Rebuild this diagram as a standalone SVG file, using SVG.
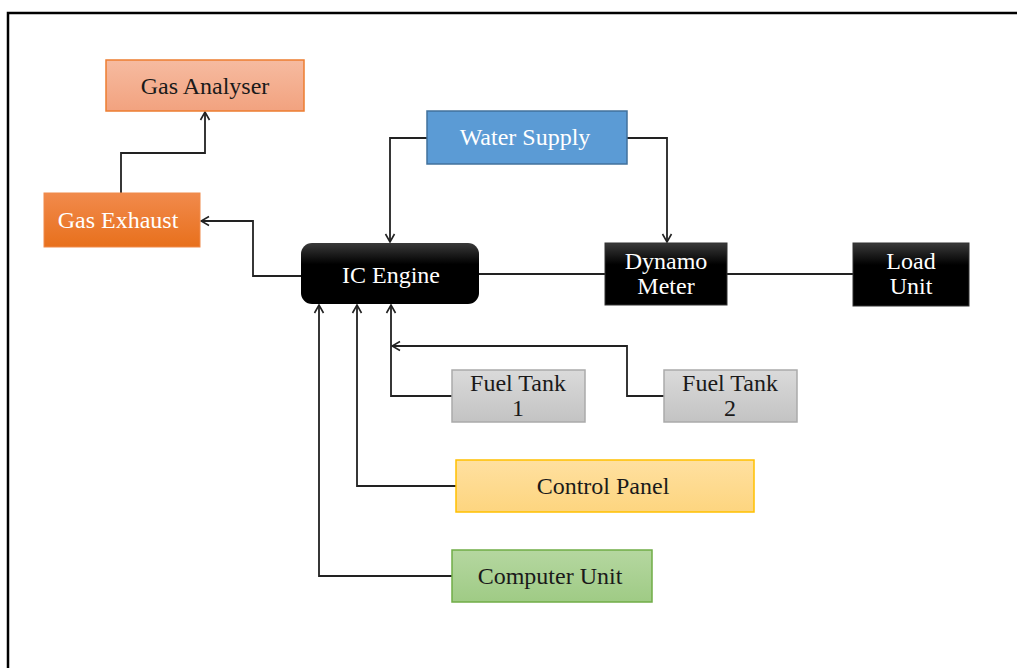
<svg xmlns="http://www.w3.org/2000/svg" width="1017" height="668" viewBox="0 0 1017 668">
<defs>
<linearGradient id="gAna" x1="0" y1="0" x2="0" y2="1"><stop offset="0" stop-color="#F6BBA0"/><stop offset="1" stop-color="#F2A27F"/></linearGradient>
<linearGradient id="gExh" x1="0" y1="0" x2="0" y2="1"><stop offset="0" stop-color="#F18A4C"/><stop offset="1" stop-color="#E8701C"/></linearGradient>
<linearGradient id="gBlk" x1="0" y1="0" x2="0" y2="1"><stop offset="0" stop-color="#3A3A3A"/><stop offset="0.35" stop-color="#000"/><stop offset="1" stop-color="#000"/></linearGradient>
<linearGradient id="gGry" x1="0" y1="0" x2="0" y2="1"><stop offset="0" stop-color="#DADADA"/><stop offset="1" stop-color="#C3C3C3"/></linearGradient>
<linearGradient id="gYel" x1="0" y1="0" x2="0" y2="1"><stop offset="0" stop-color="#FFE0A0"/><stop offset="1" stop-color="#FDD57F"/></linearGradient>
<linearGradient id="gGrn" x1="0" y1="0" x2="0" y2="1"><stop offset="0" stop-color="#B5D7A0"/><stop offset="1" stop-color="#9FCB85"/></linearGradient>
<marker id="arr" viewBox="0 0 12 12" refX="11" refY="6" markerWidth="12" markerHeight="12" markerUnits="userSpaceOnUse" orient="auto">
<path d="M3,1.5 L11,6 L3,10.5" fill="none" stroke="#222" stroke-width="1.6"/>
</marker>
<style>
.t{font-family:"Liberation Serif","Times New Roman",serif;font-size:24px;text-anchor:middle;fill:#1a1a1a}
.w{fill:#fff}
.c{fill:none;stroke:#222;stroke-width:1.8}
</style>
</defs>
<rect x="0" y="0" width="1017" height="668" fill="#fff"/>
<rect x="8" y="13" width="1030" height="680" fill="none" stroke="#000" stroke-width="2.5"/>
<g id="connectors">
<path class="c" d="M121,193 V153 H205 V112" marker-end="url(#arr)"/>
<path class="c" d="M301,276 H253 V221 H201" marker-end="url(#arr)"/>
<path class="c" d="M427,138 H390 V242" marker-end="url(#arr)"/>
<path class="c" d="M627,138 H667 V242" marker-end="url(#arr)"/>
<path class="c" d="M479,274 H605"/>
<path class="c" d="M727,274 H853"/>
<path class="c" d="M452,396 H391 V305" marker-end="url(#arr)"/>
<path class="c" d="M664,396 H627 V346 H392" marker-end="url(#arr)"/>
<path class="c" d="M456,486 H357 V305" marker-end="url(#arr)"/>
<path class="c" d="M452,576 H319 V305" marker-end="url(#arr)"/>
</g>
<g id="gas-analyser"><rect x="106" y="60" width="198" height="51" fill="url(#gAna)" stroke="#ED7D31" stroke-width="1.5"/><text class="t" x="205" y="94">Gas Analyser</text></g>
<g id="gas-exhaust"><rect x="44" y="193" width="156" height="54" fill="url(#gExh)" stroke="#F08A4B" stroke-width="1"/><text class="t w" x="118" y="228">Gas Exhaust</text></g>
<g id="water-supply"><rect x="427" y="111" width="200" height="53" fill="#5B9BD5" stroke="#41719C" stroke-width="1.5"/><text class="t w" x="525" y="145">Water Supply</text></g>
<g id="ic-engine"><rect x="301" y="243" width="178" height="61" rx="11" fill="url(#gBlk)"/><text class="t w" x="391" y="283">IC Engine</text></g>
<g id="dynamo-meter"><rect x="605" y="243" width="122" height="62" fill="url(#gBlk)" stroke="#333" stroke-width="1"/><text class="t w" x="666" y="269">Dynamo</text><text class="t w" x="666" y="294">Meter</text></g>
<g id="load-unit"><rect x="853" y="243" width="116" height="63" fill="url(#gBlk)" stroke="#333" stroke-width="1"/><text class="t w" x="911" y="269">Load</text><text class="t w" x="911" y="294">Unit</text></g>
<g id="fuel-tank-1"><rect x="452" y="370" width="133" height="52" fill="url(#gGry)" stroke="#AAAAAA" stroke-width="1.5"/><text class="t" x="518" y="391">Fuel Tank</text><text class="t" x="518" y="416">1</text></g>
<g id="fuel-tank-2"><rect x="664" y="370" width="133" height="52" fill="url(#gGry)" stroke="#AAAAAA" stroke-width="1.5"/><text class="t" x="730" y="391">Fuel Tank</text><text class="t" x="730" y="416">2</text></g>
<g id="control-panel"><rect x="456" y="460" width="298" height="52" fill="url(#gYel)" stroke="#FFC000" stroke-width="1.5"/><text class="t" x="603" y="494">Control Panel</text></g>
<g id="computer-unit"><rect x="452" y="550" width="200" height="52" fill="url(#gGrn)" stroke="#70AD47" stroke-width="1.5"/><text class="t" x="550" y="584">Computer Unit</text></g>
</svg>
